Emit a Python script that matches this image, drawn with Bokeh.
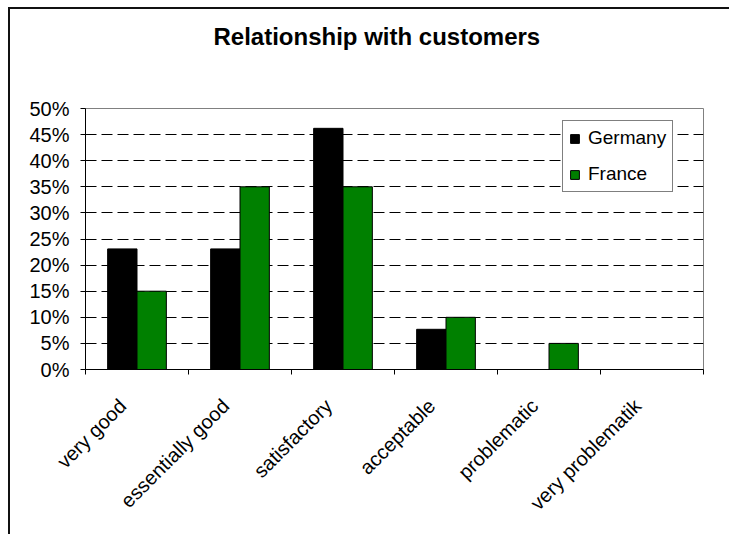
import math
from bokeh.plotting import figure
from bokeh.models import (ColumnDataSource, FixedTicker, NumeralTickFormatter, Legend,
                          LegendItem, Title, Range1d)
from bokeh.transform import dodge
from bokeh.embed import file_html
from bokeh.resources import INLINE

categories = ["very good", "essentially good", "satisfactory", "acceptable",
              "problematic", "very problematik"]
germany = [0.231, 0.231, 0.462, 0.077, 0.0, 0.0]
france = [0.15, 0.35, 0.35, 0.10, 0.05, 0.0]
series_names = ["Germany", "France"]
y_ticks = [0.0, 0.05, 0.10, 0.15, 0.20, 0.25, 0.30, 0.35, 0.40, 0.45, 0.50]
title_text = "Relationship with customers"

FONT = "Liberation Sans"

centers = [i + 0.5 for i in range(len(categories))]
bounds = [float(i) for i in range(len(categories) + 1)]
label_pos = [c - 0.14 for c in centers]   # slight shift so rotated labels end at category centre
source = ColumnDataSource(data=dict(x=centers, cat=categories, germany=germany, france=france))

p = figure(width=721, height=527, output_backend="svg", toolbar_location=None,
           x_range=Range1d(0, len(categories)), y_range=Range1d(0, 0.5),
           min_border_left=75, min_border_right=28, min_border_top=99, min_border_bottom=167)
p.styles = {"border-left": "2px solid #111111", "border-top": "2px solid #111111",
            "border-right": "none", "border-bottom": "none",
            "margin-left": "8px", "margin-top": "7px", "background-color": "white"}

# spacer keeps the title well above the plot area (added first = nearest the frame)
spacer = Title(text=" ", text_font_size="1px", standoff=56)
p.add_layout(spacer, "above")
title = Title(text=title_text, align="left", offset=128, vertical_align="bottom",
              text_font=FONT, text_font_size="24px", text_font_style="bold",
              text_color="black", standoff=0)
p.add_layout(title, "above")

p.outline_line_color = "#808080"
p.outline_line_width = 1
p.background_fill_color = "white"
p.border_fill_color = "white"

# grid
p.xgrid.visible = False
p.ygrid.ticker = FixedTicker(ticks=y_ticks)
p.ygrid.grid_line_color = "black"
p.ygrid.grid_line_dash = "11 5"
p.ygrid.grid_line_width = 1

w = 0.285
r1 = p.vbar(x=dodge("x", -w / 2, range=p.x_range), top="germany", width=w, source=source,
            fill_color="black", line_color="black", line_width=1)
r2 = p.vbar(x=dodge("x", w / 2, range=p.x_range), top="france", width=w, source=source,
            fill_color="#008000", line_color="black", line_width=1)

# x axis
xa = p.xaxis[0]
xa.ticker = FixedTicker(ticks=label_pos, minor_ticks=bounds)
xa.major_label_overrides = {c: lab for c, lab in zip(label_pos, categories)}
xa.major_tick_out = 0
xa.major_tick_in = 0
xa.minor_tick_out = 5
xa.minor_tick_in = 0
xa.minor_tick_line_color = "black"
xa.axis_line_color = "black"
xa.major_label_orientation = math.pi / 4
xa.major_label_text_font = FONT
xa.major_label_text_font_size = "20px"
xa.major_label_text_color = "black"
xa.major_label_standoff = 28

# y axis
ya = p.yaxis[0]
ya.ticker = FixedTicker(ticks=y_ticks)
ya.formatter = NumeralTickFormatter(format="0%")
ya.major_tick_out = 5
ya.major_tick_in = 0
ya.minor_tick_out = 0
ya.minor_tick_in = 0
ya.major_tick_line_color = "black"
ya.axis_line_color = "black"
ya.major_label_text_font = FONT
ya.major_label_text_font_size = "20px"
ya.major_label_text_color = "black"
ya.major_label_standoff = 11

legend = Legend(items=[LegendItem(label=series_names[0], renderers=[r1]),
                       LegendItem(label=series_names[1], renderers=[r2])],
                location=(477, 177), orientation="vertical",
                border_line_color="black", border_line_width=1,
                background_fill_color="white", background_fill_alpha=1,
                label_text_font=FONT, label_text_font_size="19px", label_text_color="black",
                glyph_width=11, glyph_height=11, label_height=21, spacing=14,
                padding=6, margin=0, label_standoff=8)
p.add_layout(legend, "center")

open("out.html", "w").write(file_html(p, INLINE))
